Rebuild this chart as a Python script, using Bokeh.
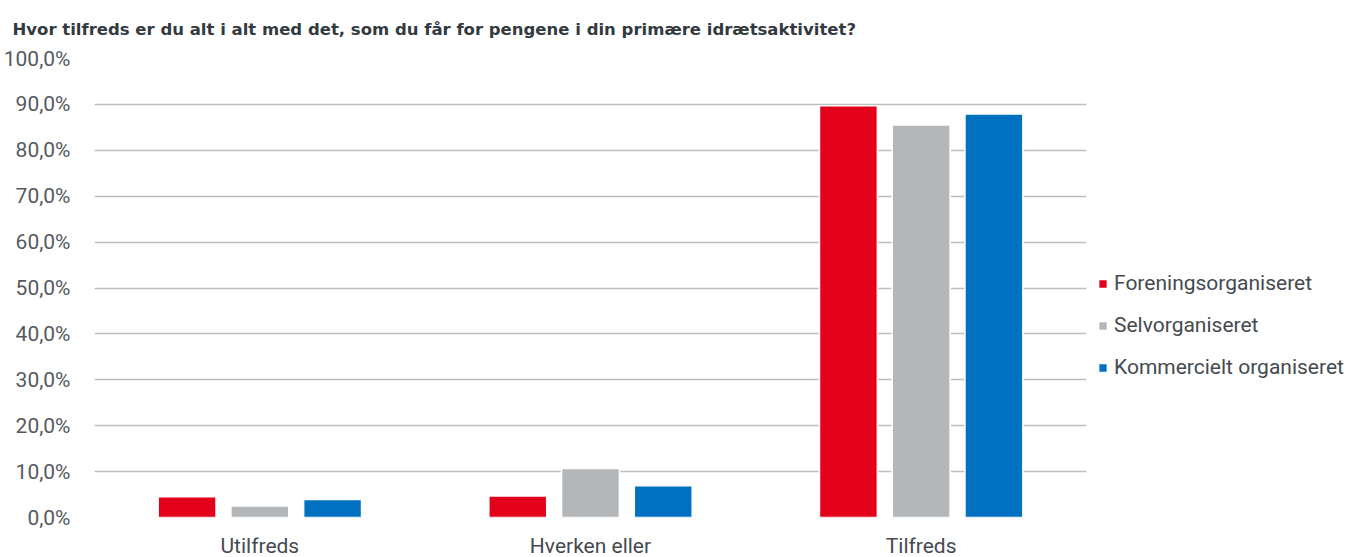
from bokeh.plotting import figure
from bokeh.models import FactorRange, Range1d, Legend, LegendItem, CustomJSTickFormatter, FixedTicker, ColumnDataSource
from bokeh.transform import dodge
from bokeh.embed import file_html
from bokeh.resources import INLINE

title_text = "Hvor tilfreds er du alt i alt med det, som du får for pengene i din primære idrætsaktivitet?"
categories = ["Utilfreds", "Hverken eller", "Tilfreds"]
series_names = ["Foreningsorganiseret", "Selvorganiseret", "Kommercielt organiseret"]
foreningsorganiseret = [4.5, 4.7, 89.7]
selvorganiseret = [2.5, 10.7, 85.5]
kommercielt = [3.9, 6.9, 87.9]
colors = ["#E2001A", "#B4B7B9", "#0070C0"]
y_ticks = [0, 10, 20, 30, 40, 50, 60, 70, 80, 90, 100]

src = ColumnDataSource(dict(cat=categories, s0=foreningsorganiseret, s1=selvorganiseret, s2=kommercielt))

p = figure(frame_width=992, frame_height=459, x_range=FactorRange(*categories), y_range=Range1d(0, 100),
           output_backend="svg", toolbar_location=None,
           min_border_left=86, min_border_right=255, min_border_top=58, min_border_bottom=24)

p.title.text = title_text
p.title.text_font = "DejaVu Sans"
p.title.text_font_style = "bold"
p.title.text_font_size = "16.5px"
p.title.text_color = "#333a40"
p.title.align = "left"
p.title.vertical_align = "top"
p.title.offset = -82
p.title.standoff = 36

offsets = [-0.22, 0.0, 0.22]
renderers = []
for i, key in enumerate(["s0", "s1", "s2"]):
    r = p.vbar(x=dodge("cat", offsets[i], range=p.x_range), top=key, width=0.175, source=src,
               fill_color=colors[i], line_color="white", line_width=1.5)
    renderers.append(r)

legend = Legend(items=[LegendItem(label=series_names[i], renderers=[renderers[i]]) for i in range(3)],
                location=(11, 138), orientation="vertical")
legend.label_text_font = "Roboto"
legend.label_text_font_size = "21px"
legend.label_text_color = "#454a50"
legend.glyph_width = 11
legend.glyph_height = 11
legend.spacing = 18
legend.padding = 0
legend.margin = 0
legend.label_standoff = 6
legend.border_line_color = None
legend.background_fill_alpha = 0
p.add_layout(legend, "right")

p.xgrid.grid_line_color = None
p.ygrid.grid_line_color = "#bcbec0"
p.ygrid.grid_line_width = 1.5
p.ygrid.ticker = FixedTicker(ticks=y_ticks)

p.yaxis.ticker = FixedTicker(ticks=y_ticks)
p.yaxis.formatter = CustomJSTickFormatter(code="return tick.toFixed(1).replace('.', ',') + '%';")
p.yaxis.axis_line_color = None
p.yaxis.major_tick_line_color = None
p.yaxis.minor_tick_line_color = None
p.yaxis.major_label_standoff = 18
p.yaxis.major_label_text_font = "Roboto"
p.yaxis.major_label_text_font_size = "21px"
p.yaxis.major_label_text_color = "#555a5f"

p.xaxis.axis_line_color = None
p.xaxis.major_tick_line_color = None
p.xaxis.major_label_standoff = 10
p.xaxis.major_label_text_font = "Roboto"
p.xaxis.major_label_text_font_size = "21px"
p.xaxis.major_label_text_color = "#454a50"

p.outline_line_color = None
p.background_fill_color = "white"
p.border_fill_color = "white"

open("out.html", "w").write(file_html(p, INLINE))
